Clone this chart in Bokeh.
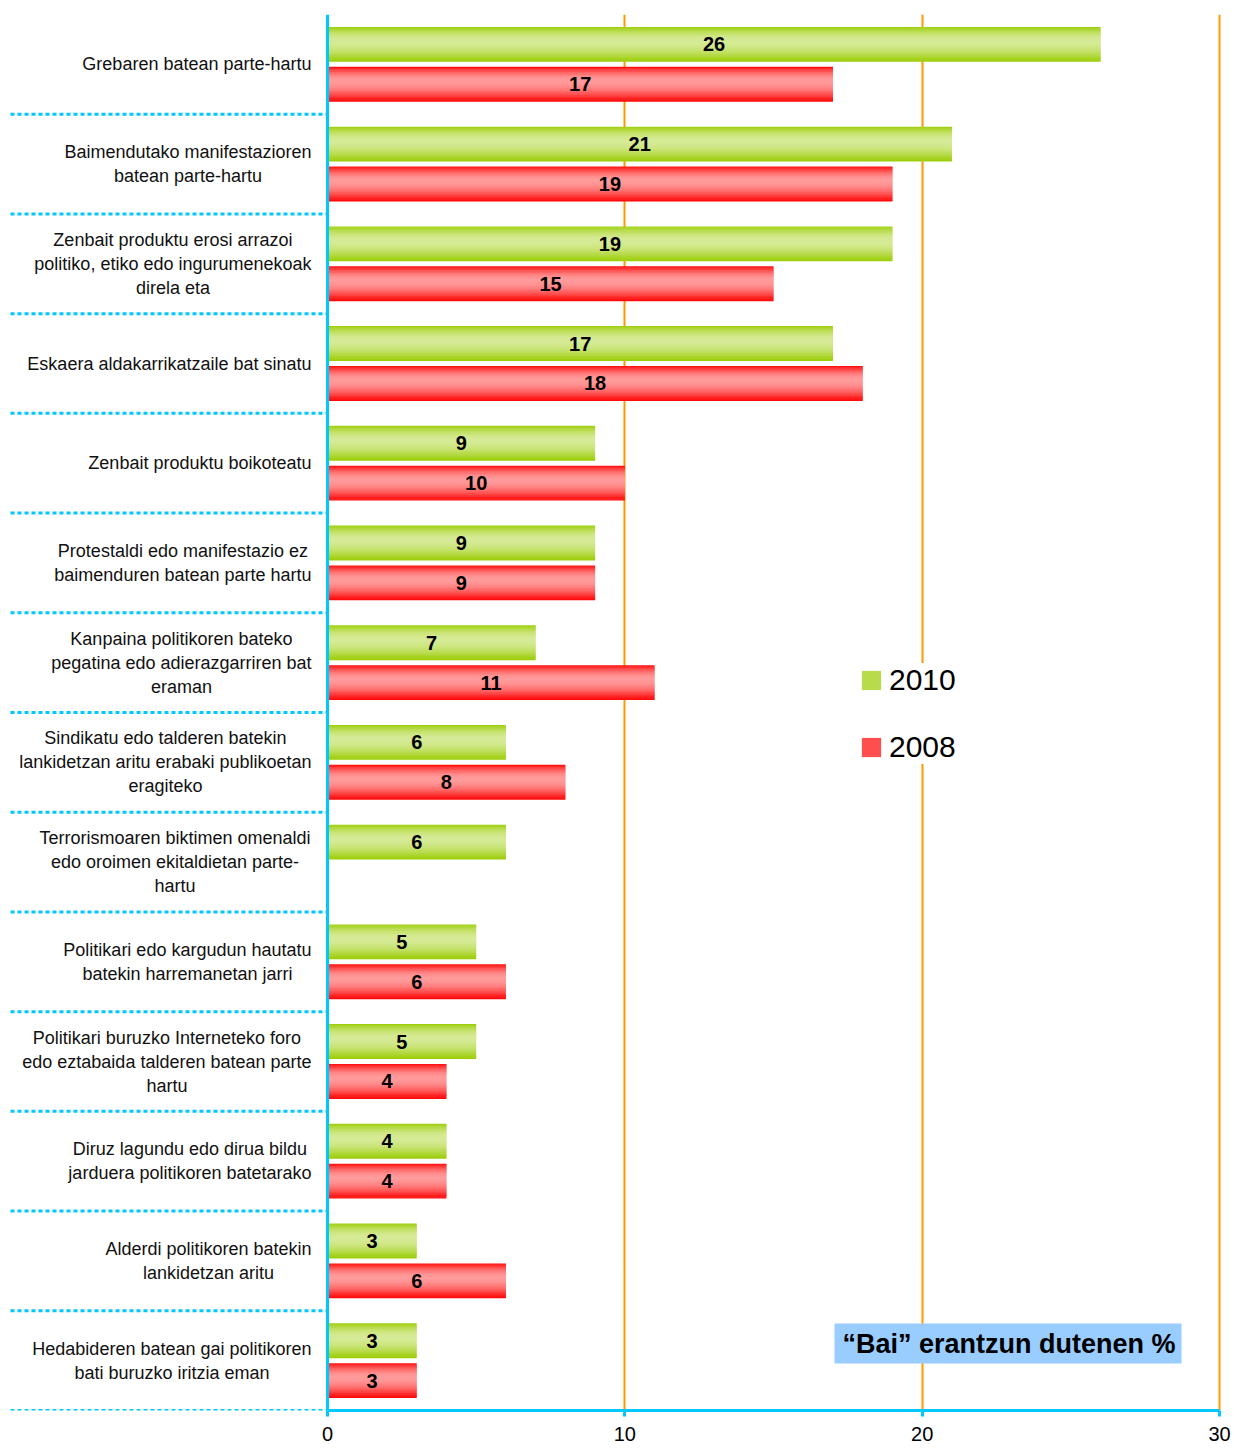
from bokeh.plotting import figure
from bokeh.models import FixedTicker, Legend, LegendItem, Label, ColumnDataSource, Range1d, Span
from bokeh.embed import file_html
from bokeh.resources import INLINE
from bokeh.core.properties import value

# ---------------- data ----------------
categories = [
    "Grebaren batean parte-hartu",
    "Baimendutako manifestazioren\nbatean parte-hartu",
    "Zenbait produktu erosi arrazoi\npolitiko, etiko edo ingurumenekoak\ndirela eta",
    "Eskaera aldakarrikatzaile bat sinatu",
    "Zenbait produktu boikoteatu",
    "Protestaldi edo manifestazio ez\nbaimenduren batean parte hartu",
    "Kanpaina politikoren bateko\npegatina edo adierazgarriren bat\neraman",
    "Sindikatu edo talderen batekin\nlankidetzan aritu erabaki publikoetan\neragiteko",
    "Terrorismoaren biktimen omenaldi\nedo oroimen ekitaldietan parte-\nhartu",
    "Politikari edo kargudun hautatu\nbatekin harremanetan jarri",
    "Politikari buruzko Interneteko foro\nedo eztabaida talderen batean parte\nhartu",
    "Diruz lagundu edo dirua bildu\njarduera politikoren batetarako",
    "Alderdi politikoren batekin\nlankidetzan aritu",
    "Hedabideren batean gai politikoren\nbati buruzko iritzia eman",
]
values_2010 = [26, 21, 19, 17, 9, 9, 7, 6, 6, 5, 5, 4, 3, 3]
values_2008 = [17, 19, 15, 18, 10, 9, 11, 8, None, 6, 4, 4, 6, 3]
series_names = ["2010", "2008"]
x_tick_values = [0, 10, 20, 30]
annotation_text = "\u201cBai\u201d erantzun dutenen %"

# ---------------- style / layout ----------------
FONT = "Liberation Sans"
CYAN = "#00c8ff"
ORANGE = "#ff9900"
GREEN_DARK = (153, 204, 0)
GREEN_LIGHT = (214, 234, 150)
RED_DARK = (255, 0, 0)
RED_LIGHT = (255, 155, 155)

W, H = 1234, 1450
ZERO_PX = 327          # canvas x of value 0
V30_PX = 1219          # canvas x of value 30
FRAME_RIGHT_PX = 1222
TOP_B, BOT_B = 14, 40
XMAX = 30
PXU = (V30_PX - ZERO_PX) / XMAX
XMIN = -ZERO_PX / PXU
XEND = XMAX + (FRAME_RIGHT_PX - V30_PX) / PXU
n = len(categories)
PYU = (H - TOP_B - BOT_B) / n

LABEL_SIZE = 18
LABEL_RIGHT_PX = 311   # canvas x where label blocks end
LINE_PX = 24
SEP_LEFT_PX = 10

centers = [n - 0.5 - i for i in range(n)]
boundaries = list(range(0, n))

p = figure(width=W, height=H, output_backend="svg", toolbar_location=None,
           x_range=Range1d(XMIN, XEND), y_range=Range1d(0, n),
           min_border_left=0, min_border_right=W - FRAME_RIGHT_PX, min_border_top=TOP_B,
           min_border_bottom=BOT_B)
p.outline_line_color = None
p.yaxis.visible = False

# x grid (orange verticals)
p.xgrid.ticker = FixedTicker(ticks=[t for t in x_tick_values if t > 0])
p.xgrid.grid_line_color = ORANGE
p.xgrid.grid_line_width = 2
p.ygrid.visible = False

# dotted separators between categories (extend into label area)
p.segment(x0=[SEP_LEFT_PX / PXU + XMIN] * len(boundaries), x1=[0] * len(boundaries),
          y0=boundaries, y1=boundaries, line_color=CYAN, line_width=3, line_dash="4 3")

# y axis line at 0
p.add_layout(Span(location=0, dimension="height", line_color=CYAN, line_width=3))

N_STRIPS = 24
BAR_H = 0.35
OFFSET = 0.2


def blend(c_dark, c_light, w):
    return "#%02x%02x%02x" % tuple(int(round(d + (l - d) * w)) for d, l in zip(c_dark, c_light))


def profile(t):
    peak = 0.42
    u = (peak - t) / peak if t < peak else (t - peak) / (1 - peak)
    return max(0.0, 1 - u ** 1.8)


legend_items = []
for vals, off, dark, light, name in [
    (values_2010, OFFSET, GREEN_DARK, GREEN_LIGHT, series_names[0]),
    (values_2008, -OFFSET, RED_DARK, RED_LIGHT, series_names[1]),
]:
    ys = [c + off for c, v in zip(centers, vals) if v is not None]
    vs = [v for v in vals if v is not None]
    h = BAR_H / N_STRIPS
    rep = None
    for k in range(N_STRIPS):
        t = (k + 0.5) / N_STRIPS
        col = blend(dark, light, profile(t))
        hk = h * 1.9 if 0 < k < N_STRIPS - 1 else h
        src = ColumnDataSource(dict(y=[y + BAR_H / 2 - (k + 0.5) * h for y in ys], right=vs))
        r = p.hbar(y="y", right="right", left=0, height=hk, source=src,
                   fill_color=col, line_color=None)
        if k == 19:
            rep = r
    lab = ColumnDataSource(dict(x=[v / 2 for v in vs], y=ys, text=[str(v) for v in vs]))
    p.text(x="x", y="y", text="text", source=lab, text_align="center",
           text_baseline="middle", text_font=value(FONT), text_font_size="20px",
           text_font_style="bold", text_color="black")
    legend_items.append(LegendItem(label=name, renderers=[rep]))

# category labels: lines centred within a right-aligned block
ARIAL = {
    " ": 278, ",": 278, "-": 333, ".": 278,
    "a": 556, "b": 556, "c": 500, "d": 556, "e": 556, "f": 278, "g": 556, "h": 556,
    "i": 222, "j": 222, "k": 500, "l": 222, "m": 833, "n": 556, "o": 556, "p": 556,
    "q": 556, "r": 333, "s": 500, "t": 278, "u": 556, "v": 500, "w": 722, "x": 500,
    "y": 500, "z": 500, "A": 667, "B": 667, "D": 722, "E": 667, "G": 778, "H": 722,
    "I": 278, "K": 667, "P": 667, "S": 667, "T": 611, "Z": 611,
}


def text_w(s):
    return sum(ARIAL.get(ch, 556) for ch in s) * LABEL_SIZE / 1000.0


lx, ly, lt = [], [], []
for c, label in zip(centers, categories):
    lines = label.split("\n")
    bw = max(text_w(s) for s in lines)
    cx_px = LABEL_RIGHT_PX - bw / 2
    m = len(lines)
    for j, s in enumerate(lines):
        lx.append(cx_px / PXU + XMIN)
        ly.append(c + ((m - 1) / 2 - j) * LINE_PX / PYU)
        lt.append(s)
p.text(x="x", y="y", text="text", source=ColumnDataSource(dict(x=lx, y=ly, text=lt)),
       text_align="center", text_baseline="middle", text_font=value(FONT),
       text_font_size="%dpx" % LABEL_SIZE, text_color="#111111")

# x axis
xa = p.xaxis[0]
xa.ticker = FixedTicker(ticks=x_tick_values, minor_ticks=[])
xa.bounds = (0, XMAX)
xa.axis_line_color = CYAN
xa.axis_line_width = 3
xa.major_tick_line_color = CYAN
xa.major_tick_line_width = 3
xa.major_tick_out = 6
xa.major_tick_in = 0
xa.minor_tick_out = 0
xa.minor_tick_in = 0
xa.major_label_standoff = 10
xa.major_label_text_font = FONT
xa.major_label_text_font_size = "20px"
xa.major_label_text_color = "black"

legend = Legend(items=legend_items, location=(859, 646), orientation="vertical",
                background_fill_color="white", background_fill_alpha=1.0,
                border_line_color=None, padding=14, spacing=33,
                glyph_width=24, glyph_height=24, label_standoff=6,
                label_text_font=FONT, label_text_font_size="30px",
                label_text_color="black")
p.add_layout(legend)

ann = Label(x=834, y=67, x_units="screen", y_units="screen", text=annotation_text,
            text_align="left", text_baseline="middle", text_font=FONT,
            text_font_size="27px", text_font_style="bold", text_color="black",
            background_fill_color="#99ccff",
            padding=dict(left=8, right=6, top=5, bottom=5))
p.add_layout(ann)

open("out.html", "w").write(file_html(p, INLINE))
